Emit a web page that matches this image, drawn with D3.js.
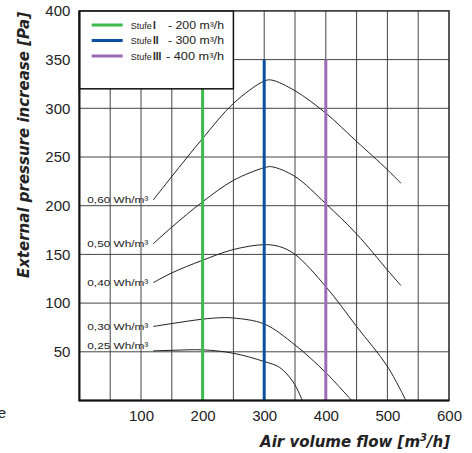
<!DOCTYPE html>
<meta charset="utf-8" />
<html>
<style>
  body { margin: 0; background: #fff; }
  text { font-family: "Liberation Sans", Arial, sans-serif; fill: #222; }
  .title { font-family: "DejaVu Sans", sans-serif; font-weight: bold; font-style: italic; }
</style>
<body>
<svg width="472" height="453"></svg>
<script src="https://d3js.org/d3.v7.min.js"></script>
<script>
  // air volume flow [m3/h] and pressure [Pa]
  var c60 = [[120,206],[150,230],[200,269],[250,305],[300,328],[312,329],[350,318],[400,295],[450,266],[500,237],[522,223]];
  var c50 = [[120,161],[150,178],[200,204],[250,226],[300,239],[312,240],[350,230],[400,202],[450,171],[500,134],[522,118]];
  var c40 = [[120,121],[150,131],[200,144],[250,155],[300,160],[325,158],[350,150],[400,117],[450,76],[500,35],[530,0]];
  var c30 = [[120,76],[150,79],[200,83.5],[230,85],[250,84.7],[300,78.6],[350,57],[400,28.6],[442,0]];
  var c25 = [[120,51],[150,51.5],[200,52],[250,48.5],[300,40],[325,34],[347,19],[362,0]];
  var curveLabels = ["0,60 Wh/m³", "0,50 Wh/m³", "0,40 Wh/m³", "0,30 Wh/m³", "0,25 Wh/m³"];

  var stufen = ["I", "II", "III"];
  var stufeFlow = [200, 300, 400];
  var stufeColor = ["#3dba4b", "#0c4f9f", "#9b6bb6"];

  var xTicks = [100, 200, 300, 400, 500, 600];
  var yTicks = [50, 100, 150, 200, 250, 300, 350, 400];

  var svg = d3.select("svg");

  var x = d3.scaleLinear().domain([0, 600]).range([79.4, 449]);
  var y = d3.scaleLinear().domain([0, 400]).range([400.5, 10.9]);

  // grid every 50
  svg.append("g").selectAll("line")
    .data(d3.range(50, 600, 50))
    .enter().append("line")
    .attr("x1", d => x(d)).attr("x2", d => x(d))
    .attr("y1", y(0)).attr("y2", y(400))
    .attr("stroke", "#444").attr("stroke-width", 1);
  svg.append("g").selectAll("line")
    .data(d3.range(50, 400, 50))
    .enter().append("line")
    .attr("x1", x(0)).attr("x2", x(600))
    .attr("y1", d => y(d)).attr("y2", d => y(d))
    .attr("stroke", "#444").attr("stroke-width", 1);

  // fan curves
  var line = d3.line()
    .x(d => x(d[0])).y(d => y(d[1]))
    .curve(d3.curveCatmullRom.alpha(0.5));
  var curves = [c60, c50, c40, c30, c25];
  svg.append("g").selectAll("path")
    .data(curves)
    .enter().append("path")
    .attr("d", line)
    .attr("fill", "none")
    .attr("stroke", "#222")
    .attr("stroke-width", 1);

  // curve labels
  svg.append("g").selectAll("text")
    .data(curves)
    .enter().append("text")
    .attr("x", d => x(d[0][0]) - 5)
    .attr("y", (d, i) => y(d[0][1]) + (i == 4 ? -2 : 3.5))
    .attr("text-anchor", "end")
    .attr("font-size", "9.5px")
    .attr("textLength", 61)
    .attr("lengthAdjust", "spacingAndGlyphs")
    .attr("fill", "#333")
    .text((d, i) => curveLabels[i]);

  // stufe lines
  svg.append("g").selectAll("line")
    .data(stufeFlow)
    .enter().append("line")
    .attr("x1", d => x(d)).attr("x2", d => x(d))
    .attr("y1", y(0)).attr("y2", y(350))
    .attr("stroke", (d, i) => stufeColor[i])
    .attr("stroke-width", 3);

  // legend box
  svg.append("rect")
    .attr("x", x(0)).attr("y", y(400))
    .attr("width", x(250) - x(0)).attr("height", y(320) - y(400))
    .attr("fill", "#fff").attr("stroke", "#111").attr("stroke-width", 1.5);

  var leg = svg.append("g").selectAll("g")
    .data(stufen)
    .enter().append("g")
    .attr("transform", (d, i) => "translate(0," + (25 + i * 15.5) + ")");
  leg.append("line")
    .attr("x1", 91.7).attr("x2", 122.7)
    .attr("stroke", (d, i) => stufeColor[i]).attr("stroke-width", 3);
  leg.append("text")
    .attr("x", 130.7).attr("y", 3.5)
    .attr("font-size", "9px").attr("fill", "#333")
    .text("Stufe");
  leg.append("text")
    .attr("x", 153).attr("y", 3.5)
    .attr("font-size", "10px").attr("font-weight", "bold").attr("fill", "#333")
    .text(d => d);
  leg.append("text")
    .attr("x", (d, i) => i == 2 ? 166 : 168).attr("y", 3.5)
    .attr("font-size", "10px").attr("fill", "#333")
    .attr("textLength", (d, i) => i == 2 ? 58 : 56).attr("lengthAdjust", "spacingAndGlyphs")
    .text((d, i) => "- " + stufeFlow[i] + " m³/h");

  // frame
  svg.append("rect")
    .attr("x", x(0)).attr("y", y(400))
    .attr("width", x(600) - x(0)).attr("height", y(0) - y(400))
    .attr("fill", "none").attr("stroke", "#222").attr("stroke-width", 1.5);
  svg.append("path")
    .attr("d", "M" + x(0) + "," + y(400) + "V" + y(0) + "H" + x(600))
    .attr("fill", "none").attr("stroke", "#111").attr("stroke-width", 2);

  // axes
  var xAxis = svg.append("g")
    .attr("transform", "translate(0," + y(0) + ")")
    .call(d3.axisBottom(x).tickValues(xTicks).tickSize(0).tickPadding(10));
  xAxis.select(".domain").remove();
  xAxis.selectAll("text").attr("font-size", "15px").attr("font-family", null).attr("fill", "#222");

  var yAxis = svg.append("g")
    .attr("transform", "translate(" + x(0) + ",0)")
    .call(d3.axisLeft(y).tickValues(yTicks).tickSize(0).tickPadding(9));
  yAxis.select(".domain").remove();
  yAxis.selectAll("text").attr("font-size", "15px").attr("font-family", null).attr("fill", "#222");

  // axis titles
  var xt = svg.append("text")
    .attr("class", "title")
    .attr("x", 450).attr("y", 447)
    .attr("text-anchor", "end")
    .attr("font-size", "15px");
  xt.append("tspan").text("Air volume flow [m");
  xt.append("tspan").attr("font-size", "10px").attr("dy", -6).text("3");
  xt.append("tspan").attr("dy", 6).text("/h]");

  svg.append("text")
    .attr("class", "title")
    .attr("transform", "translate(29,12) rotate(-90)")
    .attr("text-anchor", "end")
    .attr("font-size", "15px")
    .text("External pressure increase [Pa]");

  // cut-off fragment at the left edge
  svg.append("text")
    .attr("x", 6).attr("y", 418)
    .attr("text-anchor", "end")
    .attr("font-size", "15px")
    .attr("fill", "#444")
    .text("e");
</script>
</body>
</html>
